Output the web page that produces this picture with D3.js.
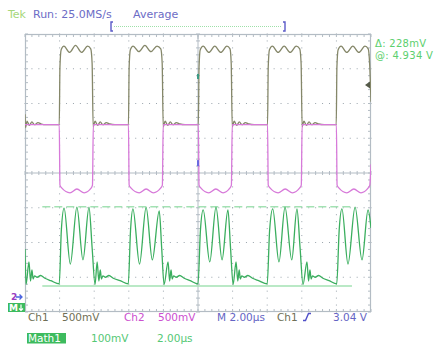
<!DOCTYPE html>
<html><head><meta charset="utf-8">
<script src="https://cdn.jsdelivr.net/npm/d3@7/dist/d3.min.js"></script>
<style>html,body{margin:0;padding:0;background:#fff;}svg{display:block;font-family:"DejaVu Sans",sans-serif;}</style>
</head><body><svg id="c" width="443" height="354"></svg>
<script>
// ---- data (time in µs, channel values in V, math in mV) ----
const ch1 = [
[0.00,2.62],[0.03,2.43],[0.12,2.52],[0.25,2.46],[0.40,2.51],[0.55,2.47],[0.75,2.50],[0.95,2.48],[1.20,2.47],[1.98,2.47],
[2.02,3.30],[2.09,3.55],[2.25,3.60],[2.58,3.51],[2.92,3.61],[3.27,3.51],[3.62,3.60],[3.80,3.56],[3.88,3.35],[3.94,2.44],[4.05,2.52],[4.20,2.46],[4.35,2.51],[4.50,2.47],[4.70,2.50],[4.90,2.48],[5.20,2.47],[5.98,2.47],
[6.02,3.30],[6.09,3.55],[6.25,3.60],[6.58,3.52],[6.93,3.61],[7.28,3.52],[7.63,3.60],[7.85,3.56],[7.93,3.35],[7.99,2.44],[8.10,2.52],[8.25,2.46],[8.40,2.51],[8.55,2.47],[8.75,2.50],[8.95,2.48],[9.25,2.47],[10.02,2.47],
[10.06,3.30],[10.13,3.55],[10.30,3.60],[10.63,3.51],[10.97,3.60],[11.32,3.51],[11.67,3.60],[11.85,3.56],[11.92,3.35],[11.98,2.44],[12.09,2.52],[12.24,2.46],[12.39,2.51],[12.54,2.47],[12.74,2.50],[12.94,2.48],[13.25,2.47],[14.02,2.47],
[14.06,3.30],[14.13,3.55],[14.30,3.60],[14.63,3.51],[14.98,3.60],[15.33,3.51],[15.68,3.60],[15.88,3.56],[15.96,3.35],[16.02,2.44],[16.12,2.52],[16.27,2.46],[16.42,2.51],[16.57,2.47],[16.77,2.50],[16.97,2.48],[17.30,2.47],[17.99,2.47],
[18.03,3.30],[18.10,3.55],[18.27,3.60],[18.60,3.51],[18.95,3.60],[19.30,3.51],[19.65,3.60],[19.84,3.56],[19.92,3.35],[20.00,2.80]
];
const ch2 = [
[0.00,2.47],[1.98,2.47],[2.02,1.60],[2.12,1.56],[2.60,1.49],[3.00,1.545],[3.42,1.49],[3.83,1.56],[3.90,1.60],[3.95,2.47],
[5.98,2.47],[6.02,1.60],[6.12,1.56],[6.60,1.49],[7.00,1.545],[7.42,1.49],[7.85,1.56],[7.94,1.60],[7.99,2.47],
[10.02,2.47],[10.06,1.60],[10.16,1.56],[10.62,1.49],[11.03,1.545],[11.45,1.49],[11.85,1.56],[11.93,1.60],[11.98,2.47],
[14.02,2.47],[14.06,1.60],[14.16,1.56],[14.63,1.49],[15.04,1.545],[15.46,1.49],[15.88,1.56],[15.97,1.60],[16.02,2.47],
[18.00,2.47],[18.04,1.60],[18.14,1.56],[18.60,1.49],[19.01,1.545],[19.42,1.49],[19.84,1.56],[19.93,1.60],[20.00,1.90]
];
const math1 = [
[0.00,106],[0.06,4],[0.23,69],[0.32,14],[0.40,46],[0.47,20],[0.55,29],[0.70,25],[0.90,30],[1.15,22],[1.50,15],[1.98,6],
[2.10,160],[2.26,224],[2.62,63],[3.00,227],[3.35,75],[3.70,227],[3.88,110],[4.05,4],[4.17,69],[4.27,14],[4.35,46],[4.42,20],[4.50,29],[4.65,25],[4.85,30],[5.10,22],[5.50,15],[5.97,6],
[6.10,160],[6.24,222],[6.62,63],[7.00,226],[7.36,75],[7.76,216],[7.90,110],[8.04,4],[8.27,69],[8.36,14],[8.44,46],[8.51,20],[8.59,29],[8.74,25],[8.94,30],[9.20,22],[9.55,15],[10.00,6],
[10.14,160],[10.30,219],[10.68,69],[11.04,227],[11.39,75],[11.73,219],[11.88,110],[12.03,4],[12.20,69],[12.30,14],[12.38,46],[12.45,20],[12.53,29],[12.68,25],[12.88,30],[13.15,22],[13.50,15],[14.00,6],
[14.14,160],[14.32,222],[14.68,69],[15.03,227],[15.42,75],[15.72,222],[15.90,110],[16.07,4],[16.30,69],[16.39,14],[16.47,46],[16.54,20],[16.62,29],[16.77,25],[16.97,30],[17.22,22],[17.58,15],[18.02,6],
[18.16,160],[18.32,222],[18.67,63],[19.08,227],[19.48,75],[19.83,219],[20.00,167]
];
const cursorLevels = [228, 0];        // mV (Δ: 228mV)
const cursorSpan = [1.0, 18.9];       // µs
const triggerLevel = 3.04;            // V
const headerLabels = ["Tek", "Run: 25.0MS/s", "Average"];
const readouts = ["Δ: 228mV", "@: 4.934 V"];
const bottomRow1 = ["Ch1", "500mV", "Ch2", "500mV", "M 2.00µs", "Ch1", "3.04 V"];
const bottomRow2 = ["Math1", "100mV", "2.00µs"];

// ---- layout ----
const svg = d3.select("#c");
const L = 25, R = 371, T = 34, B = 312;
const x = d3.scaleLinear().domain([0, 20]).range([L, R]);
const yDiv = d3.scaleLinear().domain([-4, 4]).range([B, T]);
const chGnd = -3.55, mGnd = -3.25;
const yCh = d3.scaleLinear().domain([0, 0.5]).range([yDiv(chGnd), yDiv(chGnd + 1)]);
const yM = d3.scaleLinear().domain([0, 100]).range([yDiv(mGnd), yDiv(mGnd + 1)]);

svg.append("rect").attr("width", 443).attr("height", 354).attr("fill", "#fff");

// graticule
const g = svg.append("g");
const gridCol = "#b3bcc4", dotCol = "#9aa4ac";
const minorX = d3.range(0, 20.001, 0.4), minorY = d3.range(-4, 4.001, 0.2);
for (let k = 1; k < 10; k++) {
  if (k === 5) continue;
  minorY.forEach(v => g.append("rect").attr("x", x(2 * k) - 0.5).attr("y", yDiv(v) - 0.5).attr("width", 1).attr("height", 1).attr("fill", dotCol));
}
for (let k = -3; k <= 3; k++) {
  if (k === 0) continue;
  minorX.forEach(t => g.append("rect").attr("x", x(t) - 0.5).attr("y", yDiv(k) - 0.5).attr("width", 1).attr("height", 1).attr("fill", dotCol));
}
g.append("line").attr("x1", x(10)).attr("x2", x(10)).attr("y1", T).attr("y2", B).attr("stroke", gridCol);
g.append("line").attr("x1", L).attr("x2", R).attr("y1", yDiv(0)).attr("y2", yDiv(0)).attr("stroke", gridCol);
minorY.forEach(v => g.append("line").attr("x1", x(10) - 2).attr("x2", x(10) + 2).attr("y1", yDiv(v)).attr("y2", yDiv(v)).attr("stroke", gridCol));
minorX.forEach(t => g.append("line").attr("x1", x(t)).attr("x2", x(t)).attr("y1", yDiv(0) - 2).attr("y2", yDiv(0) + 2).attr("stroke", gridCol));
minorX.forEach(t => {
  g.append("line").attr("x1", x(t)).attr("x2", x(t)).attr("y1", T).attr("y2", T + 3).attr("stroke", gridCol);
  g.append("line").attr("x1", x(t)).attr("x2", x(t)).attr("y1", B).attr("y2", B - 3).attr("stroke", gridCol);
});
minorY.forEach(v => {
  g.append("line").attr("x1", L).attr("x2", L + 3).attr("y1", yDiv(v)).attr("y2", yDiv(v)).attr("stroke", gridCol);
  g.append("line").attr("x1", R).attr("x2", R - 3).attr("y1", yDiv(v)).attr("y2", yDiv(v)).attr("stroke", gridCol);
});
g.append("line").attr("x1", x(10)).attr("x2", x(10)).attr("y1", T).attr("y2", T + 5).attr("stroke", gridCol);
g.append("rect").attr("x", L + 0.5).attr("y", T + 0.5).attr("width", R - L - 1).attr("height", B - T - 1).attr("fill", "none").attr("stroke", gridCol).attr("stroke-width", 1.2);

svg.append("clipPath").attr("id", "clip").append("rect").attr("x", L).attr("y", T).attr("width", R - L).attr("height", B - T);
const plot = svg.append("g").attr("clip-path", "url(#clip)");

plot.append("line").attr("x1", x(cursorSpan[0])).attr("x2", x(cursorSpan[1]))
  .attr("y1", yM(cursorLevels[0])).attr("y2", yM(cursorLevels[0]))
  .attr("stroke", "#a3e2b3").attr("stroke-width", 1.5).attr("stroke-dasharray", "8,4");
plot.append("line").attr("x1", x(cursorSpan[0])).attr("x2", x(cursorSpan[1]))
  .attr("y1", yM(cursorLevels[1])).attr("y2", yM(cursorLevels[1]))
  .attr("stroke", "#a3e2b3").attr("stroke-width", 1.6);

const lineCh = d3.line().x(d => x(d[0])).y(d => yCh(d[1])).curve(d3.curveMonotoneX);
const lineM = d3.line().x(d => x(d[0])).y(d => yM(d[1])).curve(d3.curveMonotoneX);
plot.append("path").attr("d", lineM(math1)).attr("fill", "none").attr("stroke", "#3aae5e").attr("stroke-width", 1.3);
plot.append("path").attr("d", lineCh(ch1)).attr("fill", "none").attr("stroke", "#858769").attr("stroke-width", 1.3);
plot.append("path").attr("d", lineCh(ch2)).attr("fill", "none").attr("stroke", "#d77ad9").attr("stroke-width", 1.3);

svg.append("rect").attr("x", x(10) - 1).attr("y", yCh(3.2)).attr("width", 2).attr("height", 5).attr("fill", "#3c9c84");
svg.append("rect").attr("x", x(10) - 1).attr("y", yDiv(0.37)).attr("width", 2).attr("height", 6).attr("fill", "#6a6ae0");
const ty = yCh(triggerLevel);
svg.append("path").attr("d", `M${R - 6},${ty} L${R - 1},${ty - 3.5} L${R - 1},${ty + 3.5} Z`).attr("fill", "#555a48");

const hdr = svg.append("g").attr("font-size", 11);
hdr.append("text").attr("x", 8).attr("y", 18).attr("fill", "#a6d77a").text(headerLabels[0]);
hdr.append("text").attr("x", 33).attr("y", 18).attr("fill", "#6c6cc6").text(headerLabels[1]);
hdr.append("text").attr("x", 133).attr("y", 18).attr("fill", "#6c6cc6").text(headerLabels[2]);
svg.append("path").attr("d", "M113,22 L111,22 L111,31 L113,31").attr("fill", "none").attr("stroke", "#5b5bc8").attr("stroke-width", 1.4);
svg.append("path").attr("d", "M283,22 L285,22 L285,31 L283,31").attr("fill", "none").attr("stroke", "#5b5bc8").attr("stroke-width", 1.4);
svg.append("line").attr("x1", 114).attr("x2", 282).attr("y1", 26.5).attr("y2", 26.5).attr("stroke", "#9ee0a8").attr("stroke-dasharray", "1,1");

const ro = svg.append("g").attr("font-size", 10).attr("fill", "#5ccf6e").attr("letter-spacing", 0.3);
ro.append("text").attr("x", 375).attr("y", 47).text(readouts[0]);
ro.append("text").attr("x", 375).attr("y", 58.5).text(readouts[1]);

svg.append("text").attr("x", 11).attr("y", 300).attr("font-size", 9).attr("font-weight", "bold").attr("fill", "#9a3cc0").text("2");
svg.append("path").attr("d", "M16,297 L22,297 M19.5,294.5 L22,297 L19.5,299.5").attr("fill", "none").attr("stroke", "#4a64e0").attr("stroke-width", 1.3);
svg.append("rect").attr("x", 8).attr("y", 303).attr("width", 17).attr("height", 9).attr("fill", "#3dbb5e");
svg.append("text").attr("x", 9).attr("y", 311).attr("font-size", 9).attr("font-weight", "bold").attr("fill", "#fff").text("M");
svg.append("path").attr("d", "M21,304.5 L21,310.5 M19,308.5 L21,310.5 L23,308.5").attr("fill", "none").attr("stroke", "#fff").attr("stroke-width", 1.2);

const b1 = svg.append("g").attr("font-size", 10.5);
const row1 = [[28, "#6f6f55"], [62, "#6f6f55"], [124, "#cc4fcf"], [158, "#cc4fcf"], [217, "#6464c4"], [277, "#6f6f55"], [333, "#6464c4"]];
bottomRow1.forEach((s, i) => b1.append("text").attr("x", row1[i][0]).attr("y", 321).attr("fill", row1[i][1]).text(s));
svg.append("path").attr("d", "M303,320.5 L305.5,320.5 L308.5,313.5 L311,313.5").attr("fill", "none").attr("stroke", "#5050c8").attr("stroke-width", 1.4);
svg.append("rect").attr("x", 27).attr("y", 333).attr("width", 39).attr("height", 10.5).attr("fill", "#3dbb5e");
const b2 = svg.append("g").attr("font-size", 10.5);
b2.append("text").attr("x", 28).attr("y", 342).attr("fill", "#fff").text(bottomRow2[0]);
b2.append("text").attr("x", 91).attr("y", 342).attr("fill", "#55c875").text(bottomRow2[1]);
b2.append("text").attr("x", 157).attr("y", 342).attr("fill", "#55c875").text(bottomRow2[2]);
</script></body></html>
